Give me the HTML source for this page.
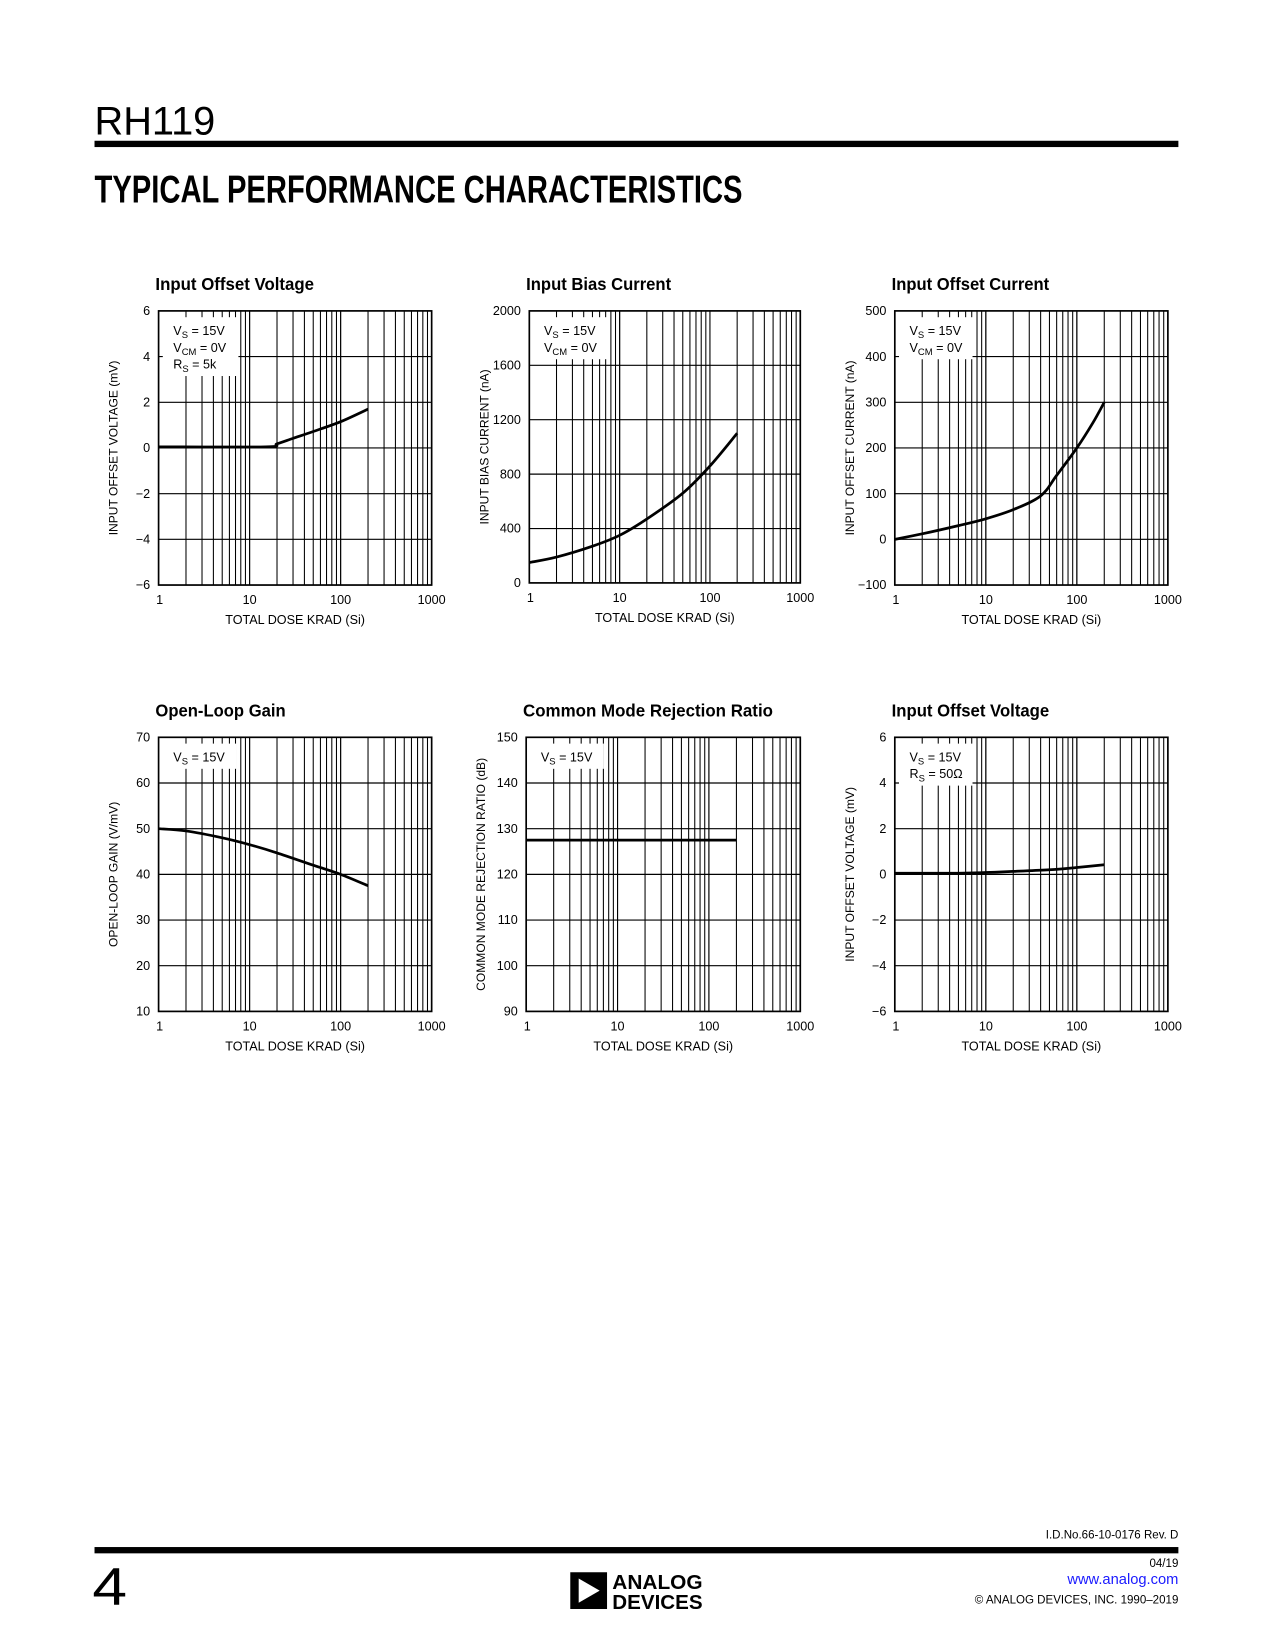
<!DOCTYPE html>
<html><head><meta charset="utf-8">
<style>
html,body{margin:0;padding:0;background:#fff;}
svg{display:block;}
text{font-family:"Liberation Sans",sans-serif;fill:#000;}
</style></head>
<body>
<svg id="page" width="1275" height="1650" viewBox="0 0 1214 1571" xmlns="http://www.w3.org/2000/svg">
<rect width="1214" height="1571" fill="#fff"/>
<text x="90" y="128" font-size="38" textLength="115" lengthAdjust="spacingAndGlyphs">RH119</text>
<rect x="90" y="134" width="1032" height="6" fill="#000"/>
<text x="90" y="193" font-size="37" font-weight="bold" textLength="617" lengthAdjust="spacingAndGlyphs">TYPICAL PERFORMANCE CHARACTERISTICS</text>
<g id="charts"></g>
<text x="1122" y="1465" font-size="11" text-anchor="end">I.D.No.66-10-0176 Rev. D</text>
<rect x="90" y="1473" width="1032" height="6" fill="#000"/>
<text x="88" y="1528" font-size="50" textLength="33" lengthAdjust="spacingAndGlyphs">4</text>
<g>
<rect x="543" y="1497" width="35" height="35" fill="#000"/>
<polygon points="551,1503 551,1526 571,1514.5" fill="#fff"/>
<text x="583" y="1513" font-size="19" font-weight="bold" textLength="86" lengthAdjust="spacingAndGlyphs">ANALOG</text>
<text x="583" y="1532" font-size="19" font-weight="bold" textLength="86" lengthAdjust="spacingAndGlyphs">DEVICES</text>
</g>
<text x="1122" y="1492" font-size="11" text-anchor="end">04/19</text>
<text x="1122" y="1508" font-size="14" text-anchor="end" style="fill:#1a1aff">www.analog.com</text>
<text x="1122" y="1527" font-size="11" text-anchor="end">© ANALOG DEVICES, INC. 1990–2019</text>
</svg>
<script>
// Chart 1: Input Offset Voltage (Rs=5k)
const c1X = [1, 15, 20, 30, 50, 100, 200];
const c1Y = [0.05, 0.05, 0.18, 0.42, 0.72, 1.15, 1.7];
const c1Ticks = [6, 4, 2, 0, -2, -4, -6];
// Chart 2: Input Bias Current
const c2X = [1, 2, 5, 10, 20, 50, 100, 200];
const c2Y = [150, 190, 270, 350, 470, 660, 860, 1100];
const c2Ticks = [2000, 1600, 1200, 800, 400, 0];
// Chart 3: Input Offset Current
const c3X = [1, 2, 5, 10, 20, 40, 60, 100, 150, 200];
const c3Y = [0, 12, 30, 45, 65, 95, 140, 200, 255, 300];
const c3Ticks = [500, 400, 300, 200, 100, 0, -100];
// Chart 4: Open-Loop Gain
const c4X = [1, 2, 5, 10, 20, 50, 100, 200];
const c4Y = [50, 49.5, 48, 46.5, 44.7, 42, 40, 37.5];
const c4Ticks = [70, 60, 50, 40, 30, 20, 10];
// Chart 5: CMRR
const c5X = [1, 200];
const c5Y = [127.5, 127.5];
const c5Ticks = [150, 140, 130, 120, 110, 100, 90];
// Chart 6: Input Offset Voltage (Rs=50)
const c6X = [1, 5, 10, 20, 50, 100, 200];
const c6Y = [0.05, 0.05, 0.08, 0.13, 0.2, 0.3, 0.42];
const c6Ticks = [6, 4, 2, 0, -2, -4, -6];
const xTickLabels = ['1', '10', '100', '1000'];

const NS = 'http://www.w3.org/2000/svg';
const root = document.getElementById('charts');
function mk(tag, attrs, parent) {
  const e = document.createElementNS(NS, tag);
  for (const k in attrs) e.setAttribute(k, attrs[k]);
  parent.appendChild(e);
  return e;
}
function chart(cfg) {
  const g = mk('g', {}, root);
  
  
  const L = cfg.l, R = cfg.r, T = cfg.t, B = cfg.b;
  const ticks = cfg.ticks;
  const ymax = ticks[0], ymin = ticks[ticks.length - 1];
  const xs = v => L + (Math.log10(v) / 3) * (R - L);
  const ys = v => B - (v - ymin) / (ymax - ymin) * (B - T);
  const title = mk('text', {x: cfg.l - 3, y: T - 20, 'font-size': 17, 'font-weight': 'bold', textLength: cfg.tw, lengthAdjust: 'spacingAndGlyphs'}, g);
  title.textContent = cfg.title;
  
  
  for (let d = 1; d < 1000; d *= 10) {
    for (let m = 1; m <= 10; m++) {
      const v = d * m;
      if (v <= 1 || v >= 1000) continue;
      const x = xs(v);
      const ln = mk('line', {x1: x, x2: x, y1: T, y2: B, stroke: '#000', 'stroke-width': 1}, g);
      
      
    }
  }
  ticks.forEach(t => {
    const y = ys(t);
    const ln = mk('line', {x1: L, x2: R, y1: y, y2: y, stroke: '#000', 'stroke-width': 1.1}, g);
    
    
    const lb = mk('text', {x: L - 8, y: y + 4, 'font-size': 12, 'text-anchor': 'end'}, g);
    lb.textContent = t < 0 ? '\u2212' + Math.abs(t) : String(t);
    
    
  });
  const lh = cfg.legend.length * 16 + 8;
  const box = mk('rect', {x: L + 4, y: T + 6, width: cfg.lw, height: lh, fill: '#fff'}, g);
  
  
  cfg.legend.forEach((s, i) => {
    const t = mk('text', {x: L + 14, y: T + 23 + i * 16, 'font-size': 12}, g);
    t.innerHTML = s;
    
    
  });
  const fr = mk('rect', {x: L, y: T, width: R - L, height: B - T, fill: 'none', stroke: '#000', 'stroke-width': 1.6}, g);
  
  
  xTickLabels.forEach((s, i) => {
    const v = Math.pow(10, i);
    const lb = mk('text', {x: xs(v) + (i === 0 ? 1 : 0), y: B + 18, 'font-size': 12, 'text-anchor': 'middle'}, g);
    lb.textContent = s;
    
    
  });
  const xt = mk('text', {x: (L + R) / 2, y: B + 37, 'font-size': 12, 'text-anchor': 'middle'}, g);
  xt.textContent = 'TOTAL DOSE KRAD (Si)';
  
  
  const yt = mk('text', {x: 0, y: 0, 'font-size': 11.5, 'text-anchor': 'middle', transform: 'translate(' + (L - 39) + ',' + ((T + B) / 2) + ') rotate(-90)'}, g);
  yt.textContent = cfg.ytitle;
  
  
  const N = cfg.x.length;
  const P = cfg.x.map((v, i) => [xs(v), ys(cfg.y[i])]);
  let d = 'M' + P[0][0] + ',' + P[0][1];
  for (let i = 0; i < N - 1; i++) {
    const p0 = P[Math.max(0, i - 1)], p1 = P[i], p2 = P[i + 1], p3 = P[Math.min(N - 1, i + 2)];
    const c1 = [p1[0] + (p2[0] - p0[0]) / 6, p1[1] + (p2[1] - p0[1]) / 6];
    const c2 = [p2[0] - (p3[0] - p1[0]) / 6, p2[1] - (p3[1] - p1[1]) / 6];
    d += ' C' + c1[0] + ',' + c1[1] + ' ' + c2[0] + ',' + c2[1] + ' ' + p2[0] + ',' + p2[1];
  }
  const path = mk('path', {d: d, fill: 'none', stroke: '#000', 'stroke-width': 2.6}, g);
  
  
}
const VS = 'V<tspan font-size="9" dy="3">S</tspan><tspan dy="-3"> = 15V</tspan>';
const VCM = 'V<tspan font-size="9" dy="3">CM</tspan><tspan dy="-3"> = 0V</tspan>';
chart({name: 'input-offset-voltage-chart', title: 'Input Offset Voltage', tw: 151, l: 151, r: 411, t: 296, b: 557, ticks: c1Ticks, x: c1X, y: c1Y, ytitle: 'INPUT OFFSET VOLTAGE (mV)', lw: 72, legend: [VS, VCM, 'R<tspan font-size="9" dy="3">S</tspan><tspan dy="-3"> = 5k</tspan>']});
chart({name: 'input-bias-current-chart', title: 'Input Bias Current', tw: 138, l: 504, r: 762, t: 296, b: 555, ticks: c2Ticks, x: c2X, y: c2Y, ytitle: 'INPUT BIAS CURRENT (nA)', lw: 70, legend: [VS, VCM]});
chart({name: 'input-offset-current-chart', title: 'Input Offset Current', tw: 150, l: 852, r: 1112, t: 296, b: 557, ticks: c3Ticks, x: c3X, y: c3Y, ytitle: 'INPUT OFFSET CURRENT (nA)', lw: 70, legend: [VS, VCM]});
chart({name: 'open-loop-gain-chart', title: 'Open-Loop Gain', tw: 124, l: 151, r: 411, t: 702, b: 963, ticks: c4Ticks, x: c4X, y: c4Y, ytitle: 'OPEN-LOOP GAIN (V/mV)', lw: 70, legend: [VS]});
chart({name: 'cmrr-chart', title: 'Common Mode Rejection Ratio', tw: 238, l: 501, r: 762, t: 702, b: 963, ticks: c5Ticks, x: c5X, y: c5Y, ytitle: 'COMMON MODE REJECTION RATIO (dB)', lw: 70, legend: [VS]});
chart({name: 'input-offset-voltage-50ohm-chart', title: 'Input Offset Voltage', tw: 150, l: 852, r: 1112, t: 702, b: 963, ticks: c6Ticks, x: c6X, y: c6Y, ytitle: 'INPUT OFFSET VOLTAGE (mV)', lw: 70, legend: [VS, 'R<tspan font-size="9" dy="3">S</tspan><tspan dy="-3"> = 50Ω</tspan>']});
</script>
</body></html>
